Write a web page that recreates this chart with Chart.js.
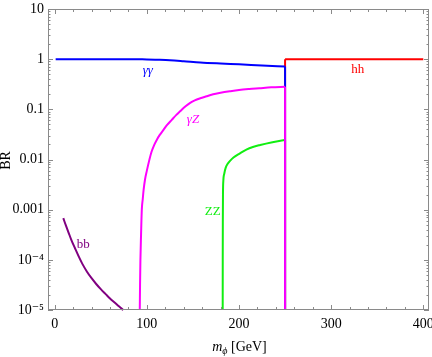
<!DOCTYPE html>
<html><head><meta charset="utf-8">
<script src="https://cdn.jsdelivr.net/npm/chart.js@4.4.0/dist/chart.umd.min.js"></script>
<style>html,body{margin:0;padding:0;background:#fff}</style>
</head><body>
<canvas id="c" width="432" height="357"></canvas>
<script>
// ---- data ----
const xTicks = [0, 100, 200, 300, 400];
const yTicks = [1e-5, 1e-4, 1e-3, 1e-2, 1e-1, 1, 10];
const yTickLabels = ['10\u207B\u2075', '10\u207B\u2074', '0.001', '0.01', '0.1', '1', '10'];

const ggX = [1, 40, 80, 95, 100, 110, 125, 140, 158, 180, 200, 225, 250];
const ggY = [1, 1, 1, 0.995, 0.99, 0.975, 0.95, 0.91, 0.86, 0.82, 0.79, 0.75, 0.715];

const gzX = [92.3, 92.6, 93, 93.7, 94.5, 95.5, 96.5, 98, 100, 102.5, 105, 108, 111, 114, 118, 122, 127, 132, 136, 142, 147, 152, 158, 165, 172, 180, 190, 200, 211, 222, 235, 250];
const gzY = [1e-5, 3.2e-5, 1e-4, 3.2e-4, 1e-3, 1.6e-3, 2.5e-3, 4e-3, 6e-3, 9.5e-3, 0.0141, 0.0195, 0.0251, 0.0309, 0.0389, 0.049, 0.0617, 0.0776, 0.0912, 0.115, 0.135, 0.151, 0.166, 0.182, 0.2, 0.214, 0.229, 0.243, 0.254, 0.263, 0.274, 0.283];

const zzX = [182.3, 182.35, 182.45, 182.6, 183, 184, 185.5, 187.5, 190, 194, 201, 208, 215, 223, 235, 250];
const zzY = [1e-5, 1e-4, 6.3e-4, 2e-3, 3.8e-3, 5.2e-3, 6.8e-3, 8.1e-3, 9.3e-3, 0.011, 0.0133, 0.0158, 0.0178, 0.0195, 0.0219, 0.0245];

const bbX = [9.3, 12, 15, 18, 22, 26, 30, 35, 40, 45, 50, 55, 60, 65, 70, 74.4];
const bbY = [6.8e-4, 4.9e-4, 3.5e-4, 2.5e-4, 1.7e-4, 1.17e-4, 8.3e-5, 5.8e-5, 4.3e-5, 3.3e-5, 2.6e-5, 2.1e-5, 1.7e-5, 1.41e-5, 1.17e-5, 1e-5];

const hhX = [250, 400];
const hhY = [1, 1];

const seriesNames = ['\u03B3\u03B3', '\u03B3Z', 'ZZ', 'bb', 'hh'];
// ---- end data ----

const COL = { gg: '#0000ff', gz: '#ff00ff', zz: '#11ee11', bb: '#800080', hh: '#ff0000' };
const Y_MIN = 1e-5;
const pts = (xs, ys) => xs.map((x, i) => ({ x, y: ys[i] }));
const drop = (xs, ys) => [{ x: xs[xs.length - 1], y: ys[ys.length - 1] }, { x: xs[xs.length - 1], y: Y_MIN }];
const dropStart = (xs, ys) => [{ x: xs[0], y: ys[0] }, { x: xs[0], y: Y_MIN }];

function ds(data, color, smooth) {
  const d = { data, borderColor: color, borderWidth: 2, pointRadius: 0, showLine: true, fill: false, clip: 2 };
  if (smooth) { d.cubicInterpolationMode = 'monotone'; d.tension = 0.4; } else { d.tension = 0; }
  return d;
}

// label anchors (data coordinates)
const labelAnchors = [
  { i: 0, x: 101, y: 0.58, c: COL.gg },
  { i: 1, x: 150, y: 0.063, c: COL.gz },
  { i: 2, x: 171.5, y: 9.1e-4, c: COL.zz },
  { i: 3, x: 31, y: 2e-4, c: COL.bb },
  { i: 4, x: 329, y: 0.61, c: COL.hh }
];

const SERIF = '"Liberation Serif", "DejaVu Serif", serif';

const framePlugin = {
  id: 'frame',
  afterDatasetsDraw(chart) {
    const { ctx, chartArea: a, scales: { x, y } } = chart;
    ctx.save();
    ctx.strokeStyle = '#8a8a8a';
    ctx.lineWidth = 1;
    ctx.strokeRect(a.left + 0.5, a.top + 0.5, a.right - a.left - 1, a.bottom - a.top - 1);
    ctx.beginPath();
    for (let v = 0; v <= 400; v += 20) {
      const px = Math.round(x.getPixelForValue(v)) + 0.5;
      const L = v % 100 === 0 ? 5 : 3;
      ctx.moveTo(px, a.bottom); ctx.lineTo(px, a.bottom - L);
      ctx.moveTo(px, a.top); ctx.lineTo(px, a.top + L);
    }
    for (let e = -5; e <= 1; e++) {
      for (let m = 1; m <= 9; m++) {
        const v = m * Math.pow(10, e);
        if (v > 10.0001) break;
        const py = Math.round(y.getPixelForValue(v)) + 0.5;
        const L = m === 1 ? 5 : 2.5;
        ctx.moveTo(a.left, py); ctx.lineTo(a.left + L, py);
        ctx.moveTo(a.right, py); ctx.lineTo(a.right - L, py);
      }
    }
    ctx.stroke();

    // series labels
    ctx.textAlign = 'center';
    ctx.textBaseline = 'middle';
    labelAnchors.forEach(l => {
      ctx.fillStyle = l.c;
      ctx.font = (l.i <= 1 ? 'italic ' : '') + '13px ' + SERIF;
      ctx.fillText(seriesNames[l.i], x.getPixelForValue(l.x), y.getPixelForValue(l.y));
    });

    // axis titles
    ctx.fillStyle = '#000';
    ctx.textBaseline = 'alphabetic';
    ctx.textAlign = 'left';
    const cx = (a.left + a.right) / 2 + 1;
    const base = 351;
    ctx.font = 'italic 14px ' + SERIF;
    const wm = ctx.measureText('m').width;
    ctx.font = 'italic 10px ' + SERIF;
    const wp = ctx.measureText('\u03D5').width;
    ctx.font = '14px ' + SERIF;
    const wg = ctx.measureText(' [GeV]').width;
    let sx = cx - (wm + wp + wg) / 2;
    ctx.font = 'italic 14px ' + SERIF; ctx.fillText('m', sx, base); sx += wm;
    ctx.font = 'italic 10px ' + SERIF; ctx.fillText('\u03D5', sx, base + 3); sx += wp;
    ctx.font = '14px ' + SERIF; ctx.fillText(' [GeV]', sx, base);

    ctx.save();
    ctx.translate(10, (a.top + a.bottom) / 2 + 1);
    ctx.rotate(-Math.PI / 2);
    ctx.textAlign = 'center';
    ctx.font = '14px ' + SERIF;
    ctx.fillText('BR', 0, 0);
    ctx.restore();
    ctx.restore();
  }
};

new Chart(document.getElementById('c'), {
  type: 'scatter',
  data: {
    datasets: [
      ds(pts(gzX, gzY), COL.gz, true),
      ds(drop(gzX, gzY), COL.gz, false),
      ds(pts(ggX, ggY), COL.gg, true),
      ds(drop(ggX, ggY), COL.gg, false),
      ds(pts(bbX, bbY), COL.bb, true),
      ds(pts(zzX, zzY), COL.zz, true),
      ds(drop(zzX, zzY), COL.zz, false),
      ds(pts(hhX, hhY), COL.hh, false),
      ds(dropStart(hhX, hhY), COL.hh, false)
    ]
  },
  options: {
    responsive: false,
    animation: false,
    devicePixelRatio: 1,
    layout: { padding: { top: 9, right: 3, left: 0, bottom: 0 } },
    plugins: { legend: { display: false }, tooltip: { enabled: false } },
    scales: {
      x: {
        type: 'linear', min: -7.3, max: 406.2,
        grid: { display: false, drawTicks: false },
        border: { display: false },
        afterBuildTicks: s => { s.ticks = xTicks.map(v => ({ value: v })); },
        afterFit: s => { s.height = 47; s.paddingLeft = 0; s.paddingRight = 0; },
        ticks: { padding: 6, color: '#000', font: { family: SERIF, size: 14 }, maxRotation: 0, callback: v => String(v) }
      },
      y: {
        type: 'logarithmic', min: 1e-5, max: 10,
        grid: { display: false, drawTicks: false },
        border: { display: false },
        afterBuildTicks: s => { s.ticks = yTicks.map(v => ({ value: v })); },
        afterFit: s => { s.width = 48; s.paddingTop = 0; s.paddingBottom = 0; },
        ticks: { padding: 4, color: '#000', font: { family: SERIF, size: 14 }, autoSkip: false,
          callback: (v, i) => yTickLabels[i] }
      }
    }
  },
  plugins: [framePlugin]
});
</script>
</body></html>
